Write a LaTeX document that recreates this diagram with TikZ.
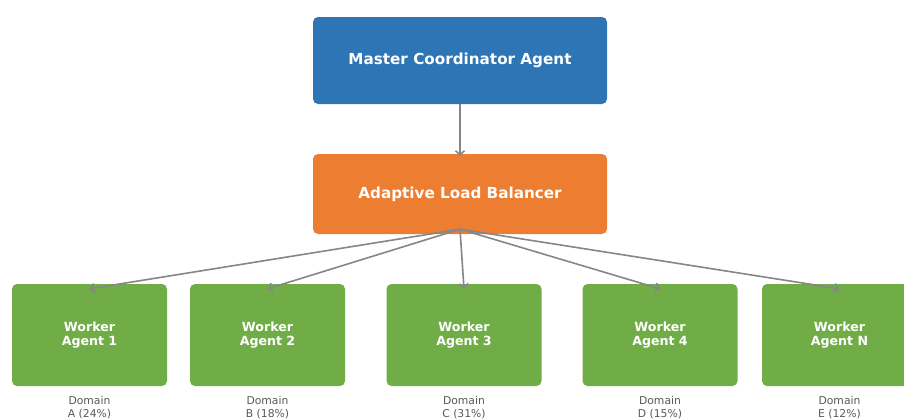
\documentclass[tikz,border=0pt]{standalone}
\usepackage{fontspec}
\setmainfont{DejaVu Sans}
\usetikzlibrary{calc, arrows.meta}
\definecolor{masterblue}{HTML}{2E75B6}
\definecolor{balorange}{HTML}{ED7D31}
\definecolor{workgreen}{HTML}{70AD47}
\definecolor{linkgray}{HTML}{868686}
\definecolor{notegray}{HTML}{595959}
\tikzset{
  box/.style = {draw = none, rounded corners = 5pt, text = white, font = \bfseries\fontsize{15.2}{18}\selectfont},
  worker/.style = {box, fill = workgreen, minimum width = 155pt, minimum height = 102pt, align = center, font = \bfseries\fontsize{12.6}{14.5}\selectfont},
  link/.style = {-{Straight Barb[length = 4pt, width = 9pt]}, linkgray, line width = 1.6pt},
  note/.style = {text = notegray, align = center, font = \fontsize{10.8}{12.5}\selectfont, inner sep = 0pt}
}
\begin{document}
\begin{tikzpicture}[x = 1pt, y = -1pt]
\useasboundingbox (0,0) rectangle (904,418);
\node[box, fill = masterblue, minimum width = 294pt, minimum height = 87pt] (master) at (460,60.5) {Master Coordinator Agent};
\node[box, fill = balorange, minimum width = 294pt, minimum height = 80pt] (lb) at (460,194) {Adaptive Load Balancer};
\draw[link] (master.south) -- ($(lb.north)+(0,2)$);
\coordinate (hub) at ($(lb.south)+(0,-5)$);

\foreach \i/\x/\lab/\dom in {1/89.5/1/A (24\%), 2/267.5/2/B (18\%), 3/464/3/C (31\%), 4/660/4/D (15\%), 5/839.5/N/E (12\%)}{
   \node[worker] (w\i) at (\x,335) {Worker\\Agent \lab};
   \node[note, anchor = north] (d\i) at ($(w\i.south)+(0,10)$) {Domain\\\dom};
   \draw[link] (hub) -- ($(w\i.north)+(0,5)$);
   }
\end{tikzpicture}
\end{document}
